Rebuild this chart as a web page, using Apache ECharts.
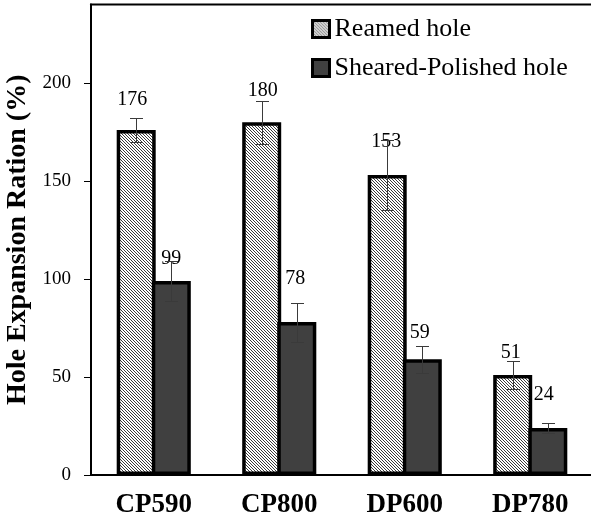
<!DOCTYPE html>
<html><head><meta charset="utf-8">
<script src="https://cdn.jsdelivr.net/npm/echarts@6/dist/echarts.min.js"></script>
<style>html,body{margin:0;padding:0;background:#fff}#c{width:591px;height:519px}</style>
</head><body><div id="c"></div>
<script>
const categories = ['CP590', 'CP800', 'DP600', 'DP780'];
const seriesNames = ['Reamed hole', 'Sheared-Polished hole'];
const reamed = [176, 180, 153, 51];
const sheared = [99, 78, 59, 24];
const reamedErr = [6, 11, 18, 7];
const shearedErr = [10, 10, 7, 2.5];
const yTicks = [0, 50, 100, 150, 200];
// label placement: [horizontal shift px, height of label centre above bar top px]
const reamedLabelShift = [[-4, 30], [1, 31], [-1, 33], [-2, 22]];
const shearedLabelShift = [[0, 22], [-1.5, 43], [-2.5, 27], [-4, 33]];

const FONT = "'Liberation Serif','Times New Roman',serif";
const BAR_W = 39;
const BAR_GAP = -0.1;               // bars share their border
const HALF_STEP = BAR_W * (1 + BAR_GAP) / 2;

const tile = document.createElement('canvas');
tile.width = 3; tile.height = 3;
const tctx = tile.getContext('2d');
tctx.fillStyle = '#ffffff'; tctx.fillRect(0, 0, 3, 3);
tctx.fillStyle = '#3a3a3a';
for (let i = 0; i < 3; i++) tctx.fillRect(i, i, 1, 1);
const hatch = { image: tile, repeat: 'repeat' };

function barData(vals, shifts) {
  return vals.map((v, i) => ({
    value: v,
    label: { offset: [shifts[i][0], 10 - shifts[i][1]] }
  }));
}

function errSeries(vals, errs, shift) {
  return {
    type: 'custom',
    z: 5,
    silent: true,
    data: vals.map((v, i) => [i, v, errs[i]]),
    encode: { x: 0, y: 1 },
    renderItem: function (params, api) {
      const i = api.value(0), v = api.value(1), e = api.value(2);
      const top = api.coord([i, v + e]);
      const bot = api.coord([i, v - e]);
      const x = Math.round(top[0] + shift) + 0.5;
      const y1 = Math.round(top[1]) + 0.5, y2 = Math.round(bot[1]) + 0.5;
      const hw = 6.5;
      const st = { stroke: '#3a3a3a', lineWidth: 1 };
      return {
        type: 'group',
        children: [
          { type: 'line', shape: { x1: x, y1: y1, x2: x, y2: y2 }, style: st },
          { type: 'line', shape: { x1: x - hw, y1: y1, x2: x + hw, y2: y1 }, style: st },
          { type: 'line', shape: { x1: x - hw, y1: y2, x2: x + hw, y2: y2 }, style: st }
        ]
      };
    }
  };
}

const labelCfg = {
  show: true,
  position: 'top',
  distance: 0,
  fontFamily: FONT,
  fontSize: 20,
  color: '#000'
};

const chart = echarts.init(document.getElementById('c'), null, { renderer: 'canvas' });
chart.setOption({
  animation: false,
  backgroundColor: '#fff',
  grid: {
    left: 91, right: -2, top: 4.6, bottom: 44,
    outerBoundsMode: 'none',
    containLabel: false,
    show: true, borderColor: '#000', borderWidth: 2, backgroundColor: 'transparent'
  },
  legend: {
    orient: 'vertical',
    left: 306, top: 11,
    itemWidth: 17, itemHeight: 17, itemGap: 13,
    icon: 'rect',
    data: seriesNames,
    itemStyle: { borderColor: '#000', borderWidth: 3 },
    textStyle: { fontFamily: FONT, fontSize: 26, color: '#000' }
  },
  xAxis: {
    type: 'category',
    data: categories,
    axisLine: { lineStyle: { color: '#000', width: 2 } },
    axisTick: { show: false },
    axisLabel: { fontFamily: FONT, fontWeight: 'bold', fontSize: 27, color: '#000', margin: 17 }
  },
  yAxis: {
    type: 'value',
    min: 0, max: 240,
    name: 'Hole Expansion Ration (%)',
    nameLocation: 'middle',
    nameGap: 47,
    nameTextStyle: { fontFamily: FONT, fontWeight: 'bold', fontSize: 28, color: '#000' },
    axisLine: { show: true, lineStyle: { color: '#000', width: 2 } },
    axisTick: { show: true, length: 7, customValues: yTicks, lineStyle: { color: '#000', width: 1 } },
    axisLabel: { customValues: yTicks, fontFamily: FONT, fontSize: 19, color: '#000', margin: 20 },
    splitLine: { show: false }
  },
  series: [
    {
      name: seriesNames[0], type: 'bar', barWidth: BAR_W, barGap: (BAR_GAP * 100) + '%', z: 2,
      itemStyle: { color: hatch, borderColor: '#000', borderWidth: 3.5 },
      label: labelCfg,
      data: barData(reamed, reamedLabelShift)
    },
    {
      name: seriesNames[1], type: 'bar', barWidth: BAR_W, barGap: (BAR_GAP * 100) + '%', z: 2,
      itemStyle: { color: '#404040', borderColor: '#000', borderWidth: 3.5 },
      label: labelCfg,
      data: barData(sheared, shearedLabelShift)
    },
    errSeries(reamed, reamedErr, -HALF_STEP),
    errSeries(sheared, shearedErr, HALF_STEP)
  ]
});
</script>
</body></html>
